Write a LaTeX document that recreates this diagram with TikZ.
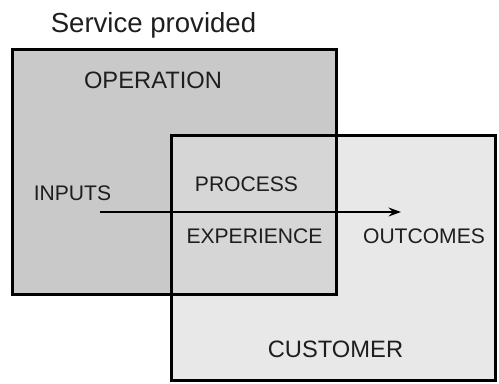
\documentclass[tikz,border=0pt]{standalone}
\usepackage{fontspec}
\setmainfont{Liberation Sans}
\usepackage{tikz}
\usetikzlibrary{arrows.meta,positioning}

\definecolor{opgray}{RGB}{201,201,201}
\definecolor{custgray}{RGB}{232,232,232}
\definecolor{bothgray}{RGB}{214,214,214}
\definecolor{inkgray}{RGB}{30,30,30}

\begin{document}
\begin{tikzpicture}[
    x=0.02cm, y=-0.02cm,
    box/.style={rectangle, inner sep=0pt, minimum width=6.46cm, minimum height=4.88cm},
    frame/.style={draw=black, line width=1.4pt},
    label/.style={anchor=base, inner sep=0pt, text=inkgray, font=\fontsize{12}{14}\selectfont},
    biglabel/.style={label, font=\fontsize{13.5}{16}\selectfont},
    arrow/.style={-{Stealth[length=7pt,width=5pt]}, line width=1.2pt}
]
    \useasboundingbox (0,0) rectangle (499,383);

    % the two areas
    \node[box, fill=opgray] (op) at (174.5,172) {};
    \node[box, fill=custgray] (cust) at (333.5,258) {};
    \fill[bothgray] (cust.north west) rectangle (op.south east);
    \draw[frame] (op.north west) rectangle (op.south east);
    \draw[frame] (cust.north west) rectangle (cust.south east);

    % texts
    \node[label, font=\fontsize{15.7}{18}\selectfont] (title) at (153.5,32) {Service provided};
    \node[biglabel] (operation) at (153,88) {OPERATION};
    \node[biglabel] (customer) at (335.5,357) {CUSTOMER};
    \node[label] (inputs) at (72.5,200) {INPUTS};
    \node[label] (process) at (246.5,191) {PROCESS};
    \node[label] (experience) at (254.5,243) {EXPERIENCE};
    \node[label] (outcomes) at (424,243) {OUTCOMES};

    \coordinate (start) at (100,212);
    \coordinate (stop) at (401,212);
    \draw[arrow] (start) -- (stop);
\end{tikzpicture}
\end{document}
